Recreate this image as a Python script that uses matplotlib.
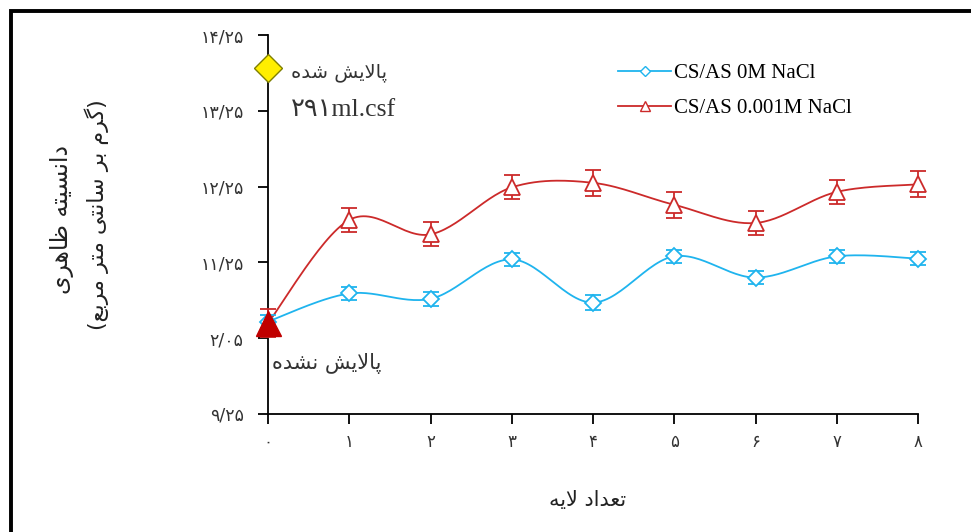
import numpy as np
import matplotlib.pyplot as plt
from matplotlib.patches import Rectangle

# داده‌ها
layers = [0, 1, 2, 3, 4, 5, 6, 7, 8]
density_0M = [10.47, 10.84, 10.77, 11.29, 10.72, 11.33, 11.05, 11.33, 11.30]
err_0M = [0.08, 0.09, 0.09, 0.09, 0.10, 0.09, 0.09, 0.09, 0.09]
density_001M = [10.45, 11.81, 11.62, 12.24, 12.30, 12.01, 11.77, 12.18, 12.28]
err_001M = [0.19, 0.16, 0.16, 0.16, 0.17, 0.17, 0.16, 0.16, 0.17]
washed_density = 13.82

xtick_labels = ['۰', '۱', '۲', '۳', '۴', '۵', '۶', '۷', '۸']
ytick_values = [9.25, 10.25, 11.25, 12.25, 13.25, 14.25]
ytick_labels = ['۹/۲۵', '۲/۰۵', '۱۱/۲۵', '۱۲/۲۵', '۱۳/۲۵', '۱۴/۲۵']

label_0M = 'CS/AS 0M NaCl'
label_001M = 'CS/AS 0.001M NaCl'


# شکل‌دهی ساده حروف فارسی (matplotlib خودش این کار را نمی‌کند)
FORMS = {
    'ا': ('\uFE8D', '\uFE8E', None, None),
    'ب': ('\uFE8F', '\uFE90', '\uFE91', '\uFE92'),
    'پ': ('\uFB56', '\uFB57', '\uFB58', '\uFB59'),
    'ت': ('\uFE95', '\uFE96', '\uFE97', '\uFE98'),
    'د': ('\uFEA9', '\uFEAA', None, None),
    'ر': ('\uFEAD', '\uFEAE', None, None),
    'س': ('\uFEB1', '\uFEB2', '\uFEB3', '\uFEB4'),
    'ش': ('\uFEB5', '\uFEB6', '\uFEB7', '\uFEB8'),
    'ظ': ('\uFEC5', '\uFEC6', '\uFEC7', '\uFEC8'),
    'ع': ('\uFEC9', '\uFECA', '\uFECB', '\uFECC'),
    'گ': ('\uFB92', '\uFB93', '\uFB94', '\uFB95'),
    'ل': ('\uFEDD', '\uFEDE', '\uFEDF', '\uFEE0'),
    'م': ('\uFEE1', '\uFEE2', '\uFEE3', '\uFEE4'),
    'ن': ('\uFEE5', '\uFEE6', '\uFEE7', '\uFEE8'),
    'ه': ('\uFEE9', '\uFEEA', '\uFEEB', '\uFEEC'),
    'ی': ('\uFBFC', '\uFBFD', '\uFBFE', '\uFBFF'),
}


def joins_next(c):
    return c in FORMS and FORMS[c][2] is not None


def shape(word):
    out = []
    i = 0
    while i < len(word):
        c = word[i]
        prev = word[i - 1] if i > 0 else ''
        linked = joins_next(prev)
        if c == 'ل' and i + 1 < len(word) and word[i + 1] == 'ا':
            out.append('\uFEFC' if linked else '\uFEFB')
            i += 2
            continue
        if c not in FORMS:
            out.append(c)
            i += 1
            continue
        nxt = word[i + 1] if i + 1 < len(word) else ''
        to_next = joins_next(c) and nxt in FORMS
        iso, fin, ini, med = FORMS[c]
        if linked and to_next:
            out.append(med)
        elif linked:
            out.append(fin)
        elif to_next:
            out.append(ini)
        else:
            out.append(iso)
        i += 1
    return ''.join(out)


def fa(text):
    return shape(text)[::-1]


def catmull(x, y, n=30):
    # منحنی هموار شبیه اکسل
    x = np.asarray(x, float)
    y = np.asarray(y, float)
    px = np.concatenate([[x[0]], x, [x[-1]]])
    py = np.concatenate([[y[0]], y, [y[-1]]])
    xs, ys = [], []
    for k in range(1, len(px) - 2):
        t = np.linspace(0, 1, n)
        for p, arr in ((px, xs), (py, ys)):
            p0, p1, p2, p3 = p[k - 1], p[k], p[k + 1], p[k + 2]
            m1 = (p2 - p0) / 2
            m2 = (p3 - p1) / 2
            h00 = 2 * t**3 - 3 * t**2 + 1
            h10 = t**3 - 2 * t**2 + t
            h01 = -2 * t**3 + 3 * t**2
            h11 = t**3 - t**2
            arr.extend(h00 * p1 + h10 * m1 + h01 * p2 + h11 * m2)
    return np.array(xs), np.array(ys)


blue = '#1fb4ee'
red = '#cc2a2a'

fig = plt.figure(figsize=(9.71, 5.32), dpi=100)
ax = fig.add_axes([268 / 971, 1 - 414 / 532, 650 / 971, 379 / 532])

# خط هموار آبی
sx, sy = catmull(layers, density_0M)
ax.plot(sx, sy, color=blue, lw=1.3, zorder=2)
eb = ax.errorbar(layers, density_0M, yerr=err_0M, fmt='none', ecolor=blue,
                 elinewidth=1.3, capsize=6, capthick=1.3, zorder=3)
for a in eb.lines[1] + eb.lines[2]:
    a.set_clip_on(False)
ax.plot(layers, density_0M, ls='none', marker='D', ms=8, mfc='white',
        mec=blue, mew=1.3, zorder=4, clip_on=False)

# خط هموار قرمز
sx, sy = catmull(layers, density_001M)
ax.plot(sx, sy, color=red, lw=1.3, zorder=2)
eb = ax.errorbar(layers, density_001M, yerr=err_001M, fmt='none', ecolor=red,
                 elinewidth=1.3, capsize=6, capthick=1.3, zorder=3)
for a in eb.lines[1] + eb.lines[2]:
    a.set_clip_on(False)
ax.plot(layers[1:], density_001M[1:], ls='none', marker='^', ms=11,
        mfc='white', mec=red, mew=1.3, zorder=4, clip_on=False)

# نمونه پالایش نشده و پالایش شده
ax.plot(layers[0], density_001M[0], marker='^', ms=18, color='#c00000',
        ls='none', clip_on=False, zorder=6)
ax.plot(0, washed_density, marker='D', ms=14, mfc='#ffee00', mec='#7f7f00',
        mew=1.0, ls='none', clip_on=False, zorder=6)

# برای راهنما
ax.plot([], [], color=blue, lw=1.3, marker='D', ms=5, mfc='white', mec=blue,
        label=label_0M)
ax.plot([], [], color=red, lw=1.3, marker='^', ms=7, mfc='white', mec=red,
        label=label_001M)
leg = ax.legend(loc='upper left', bbox_to_anchor=(0.51, 0.975), frameon=False,
                prop={'family': 'Liberation Serif', 'size': 15},
                handlelength=2.55, labelspacing=0.75, handletextpad=0.15)

ax.set_xlim(0, 8)
ax.set_ylim(9.25, 14.25)
ax.set_xticks(layers)
ax.set_xticklabels(xtick_labels, fontsize=12, family='DejaVu Sans', color='#333333')
ax.set_yticks(ytick_values)
ax.set_yticklabels(ytick_labels, fontsize=12.5, family='DejaVu Sans', color='#333333')
ax.tick_params(direction='out', length=7.5, width=1.3, pad=10)
ax.tick_params(axis='x', pad=6)
ax.spines['top'].set_visible(False)
ax.spines['right'].set_visible(False)
for s in ('left', 'bottom'):
    ax.spines[s].set_linewidth(1.3)

ax.text(0.28, washed_density - 0.07, fa('پالایش شده'), fontsize=14,
        family='DejaVu Sans', color='#333333', va='center', ha='left')
ax.text(0.28, 13.26, '۲۹۱ml.csf', fontsize=18.5,
        family=['Liberation Serif', 'DejaVu Sans'],
        color='#333333', va='center', ha='left')
ax.text(0.05, 9.92, fa('پالایش نشده'), fontsize=15, family='DejaVu Sans',
        color='#333333', va='center', ha='left')

fig.text(588 / 971, 1 - 500 / 532, fa('تعداد لایه'), fontsize=15,
         family='DejaVu Sans', ha='center', va='center', color='#222222')
fig.text(62 / 971, 1 - 220 / 532, fa('دانسیته ظاهری'), fontsize=17,
         family='DejaVu Sans', rotation=90, ha='center', va='center',
         color='#222222')
fig.text(97 / 971, 1 - 215 / 532, '(' + fa('گرم بر سانتی متر مربع') + ')',
         fontsize=16, family='DejaVu Sans', rotation=90, ha='center',
         va='center', color='#222222')

fig.patches.append(Rectangle((11 / 971, -0.1), 1.2, 1 - 11 / 532 + 0.1,
                             transform=fig.transFigure, fill=False,
                             edgecolor='black', lw=2.8, clip_on=False))

fig.savefig('out.png', dpi=100)
